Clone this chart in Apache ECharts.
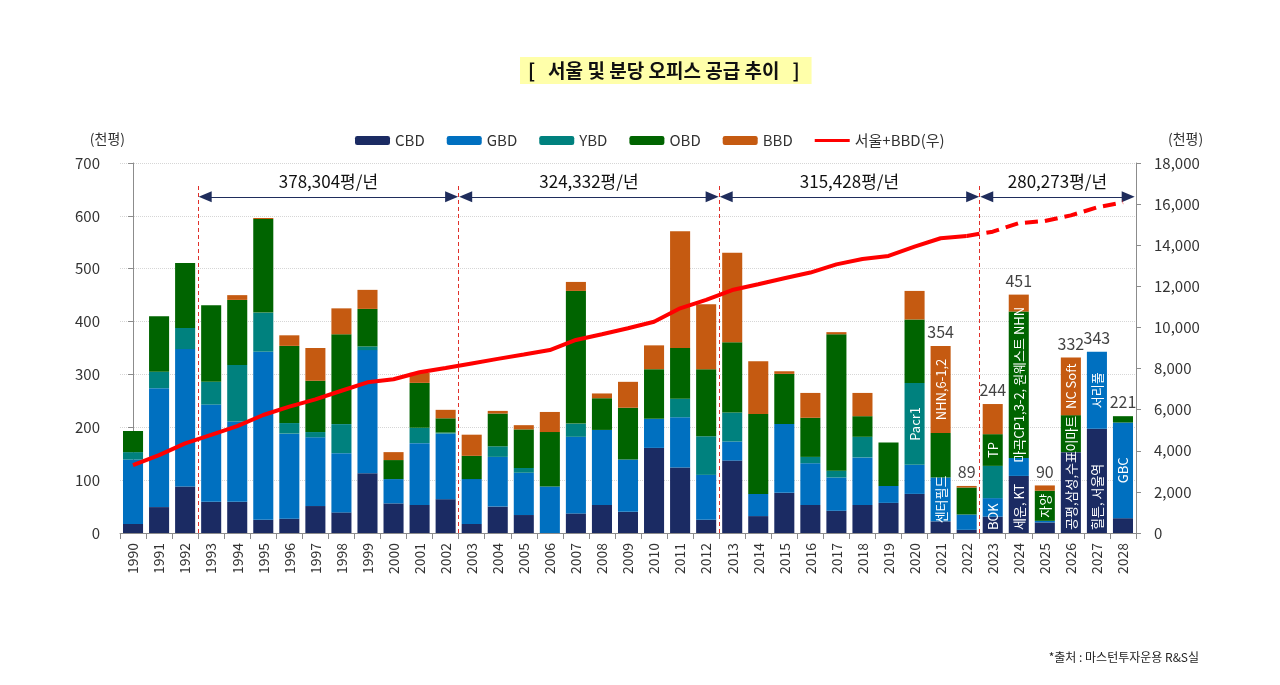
<!DOCTYPE html>
<html><head><meta charset="utf-8">
<script src="https://cdn.jsdelivr.net/npm/echarts/dist/echarts.min.js"></script>
<style>html,body{margin:0;padding:0;background:#fff}#c{width:1280px;height:685px}</style>
</head><body><div id="c"></div>
<script>
var years = ['1990','1991','1992','1993','1994','1995','1996','1997','1998','1999','2000','2001','2002','2003','2004','2005','2006','2007','2008','2009','2010','2011','2012','2013','2014','2015','2016','2017','2018','2019','2020','2021','2022','2023','2024','2025','2026','2027','2028'];
var cbd = [17,49,88,59,59,25,27,51,39,113,56,53,64,17,50,34,0,37,53,40,161,124,25,137,32,76,53,42,53,57,74,22,6,31,108,20,153,197,28];
var gbd = [122,225,260,184,152,318,161,130,112,233,46,117,124,85,94,80,88,145,142,99,55,95,85,36,42,130,79,63,90,32,55,83,29,35,34,3,0,146,181];
var ybd = [14,31,40,43,107,74,20,10,55,7,0,29,2,0,20,9,0,25,0,0,0,35,73,55,0,0,12,13,39,0,155,0,0,61,0,0,0,0,0];
var obd = [40,105,123,145,123,177,146,97,170,71,36,85,27,44,62,73,103,251,60,98,94,96,127,133,151,95,74,258,39,82,120,84,51,60,277,57,70,0,12];
var bbd = [0,0,0,0,9,2,20,62,49,36,15,19,16,40,5,8,38,17,9,49,45,221,123,169,100,5,47,4,44,0,54,165,3,57,32,10,109,0,0];
var cumulative = [3300,3790,4360,4770,5200,5740,6150,6500,6920,7330,7480,7820,8030,8250,8470,8680,8900,9390,9670,9960,10280,10930,11340,11820,12100,12390,12670,13070,13330,13480,13930,14340,14450,14660,15070,15180,15450,15840,16090];
var forecastFrom = '2022';
var totalYears = ['2021','2022','2023','2024','2025','2026','2027','2028'];
var cbdNotes = [['2023','BOK'],['2024','세운, KT'],['2026','공평,삼성,수표'],['2027','힐튼, 서울역']];
var gbdNotes = [['2021','센터필드'],['2027','서리풀'],['2028','GBC']];
var ybdNotes = [['2020','Pacr1']];
var obdNotes = [['2023','TP'],['2024','마곡CP1,3-2, 원웨스트 NHN'],['2025','자양'],['2026','이마트']];
var bbdNotes = [['2021','NHN,6-1,2'],['2026','NC Soft']];
var periodStartYears = ['1993','2003','2013','2023'];
var periodLabels = ['378,304평/년','324,332평/년','315,428평/년','280,273평/년'];
var leftTicks = [0,700,100];
var rightTicks = [0,18000,2000];

var FONT = '"Noto Sans CJK KR", "Noto Sans", sans-serif';
var COLORS = {CBD:'#1B2B63', GBD:'#0070C0', YBD:'#00817E', OBD:'#006400', BBD:'#C55A11', LINE:'#FF0000'};

function withNotes(vals, notes){
  var m = {};
  notes.forEach(function(n){ m[n[0]] = n[1]; });
  return vals.map(function(v,i){ return m[years[i]] ? {value:v, label:{show:true, formatter:m[years[i]]}} : v; });
}
function barSeries(name, vals, notes, baseAnchored){
  var lab = {show:false, position:'inside', rotate:90, color:'#fff', fontSize:13, fontFamily:FONT};
  if (baseAnchored) { lab.position = 'insideBottom'; lab.distance = 3; lab.align = 'left'; lab.verticalAlign = 'middle'; }
  return {
    name:name, type:'bar', stack:'s', barWidth:'77%', data: withNotes(vals, notes),
    itemStyle:{color:COLORS[name]},
    label:lab,
    emphasis:{disabled:true}
  };
}
function idx(y){ return years.indexOf(y); }
var fIdx = idx(forecastFrom);
var solid = cumulative.map(function(v,i){ return i<=fIdx ? v : null; });
var dashed = cumulative.map(function(v,i){ return i>=fIdx ? v : null; });
var totals = totalYears.map(function(y){ var i = idx(y); return [y, cbd[i]+gbd[i]+ybd[i]+obd[i]+bbd[i]]; });

var bounds = periodStartYears.map(function(y){ return idx(y) - 0.5; });
var dividerTop = 662;
var arrowY = 636;
var dividerData = bounds.map(function(b){ return [{coord:[b,0]},{coord:[b,dividerTop]}]; });
var arrowData = bounds.map(function(b,k){
  var end = k < bounds.length-1 ? bounds[k+1]-0.27 : years.length-0.5-0.3;
  return [{coord:[b+0.27, arrowY], label:{show:true, formatter:periodLabels[k]}},{coord:[end, arrowY]}];
});

var axisGray = '#8C8C8C';
var option = {
  animation:false,
  textStyle:{fontFamily:FONT},
  title:[
    {text:'[   서울 및 분당 오피스 공급 추이   ]', left:520, top:57, backgroundColor:'#FFFFAA',
     padding:[4,12,4,8], textStyle:{fontSize:19, fontWeight:'bold', color:'#111', fontFamily:FONT}},
    {text:'*출처 : 마스턴투자운용 R&S실', right:76, top:646,
     textStyle:{fontSize:12, fontWeight:'normal', color:'#222', fontFamily:FONT}}
  ],
  legend:{
    data:['CBD','GBD','YBD','OBD','BBD',
      {name:'서울+BBD(우)', icon:'path://M0,0 M35,9 M0,3 L35,3 L35,6 L0,6 Z'}],
    left:350, top:128, itemWidth:35, itemHeight:9, itemGap:22,
    textStyle:{fontSize:15, color:'#333', fontFamily:FONT},
    selectedMode:false
  },
  grid:{left:120, right:144, top:163, bottom:152, containLabel:false, outerBoundsMode:'none'},
  xAxis:[
    {type:'category', data:years, boundaryGap:true,
     axisLine:{lineStyle:{color:axisGray}}, axisTick:{show:true, length:6, lineStyle:{color:axisGray}},
     axisLabel:{rotate:90, fontSize:14, color:'#333', margin:10, fontFamily:FONT, interval:0}},
    {type:'value', min:-0.5, max:years.length-0.5, show:false}
  ],
  yAxis:[
    {type:'value', min:leftTicks[0], max:leftTicks[1], interval:leftTicks[2],
     name:'(천평)', nameLocation:'end', nameGap:17,
     nameTextStyle:{align:'right', padding:[0,8,0,0], fontSize:14, color:'#333', fontFamily:FONT},
     axisLine:{show:true, lineStyle:{color:axisGray}}, axisTick:{show:true, length:5, lineStyle:{color:axisGray}},
     axisLabel:{fontSize:15, color:'#333', margin:20, fontFamily:FONT},
     splitLine:{show:true, lineStyle:{color:'#D6D6D6', type:'dotted'}}},
    {type:'value', min:rightTicks[0], max:rightTicks[1], interval:rightTicks[2],
     name:'(천평)', nameLocation:'end', nameGap:17,
     nameTextStyle:{align:'left', padding:[0,0,0,32], fontSize:14, color:'#333', fontFamily:FONT},
     axisLine:{show:true, lineStyle:{color:axisGray}}, axisTick:{show:true, length:5, lineStyle:{color:axisGray}},
     axisLabel:{fontSize:15, color:'#333', margin:18, fontFamily:FONT,
       formatter:function(v){ return v.toLocaleString('en-US'); }},
     splitLine:{show:false}}
  ],
  series:[
    barSeries('CBD', cbd, cbdNotes, true),
    barSeries('GBD', gbd, gbdNotes),
    barSeries('YBD', ybd, ybdNotes),
    barSeries('OBD', obd, obdNotes),
    barSeries('BBD', bbd, bbdNotes),
    {name:'서울+BBD(우)', type:'line', yAxisIndex:1, data:solid, symbol:'none', z:5,
     lineStyle:{color:COLORS.LINE, width:4}, itemStyle:{color:COLORS.LINE}},
    {name:'forecast', type:'line', yAxisIndex:1, data:dashed, symbol:'none', z:5,
     lineStyle:{color:COLORS.LINE, width:4, type:[13,7]}, itemStyle:{color:COLORS.LINE}},
    {name:'totals', type:'scatter', data:totals, symbolSize:0, z:6,
     label:{show:true, position:'top', distance:6, color:'#111', fontSize:16, fontFamily:FONT,
       formatter:function(p){ return p.value[1]; }}},
    {name:'dividers', type:'line', xAxisIndex:1, yAxisIndex:0, data:[], silent:true,
     markLine:{silent:true, symbol:['none','none'], animation:false,
       lineStyle:{color:'#E0302A', type:[4,3], width:1}, label:{show:false}, data:dividerData}},
    {name:'arrows', type:'line', xAxisIndex:1, yAxisIndex:0, data:[], silent:true,
     markLine:{silent:true, symbol:['triangle','triangle'], symbolSize:[11,13], animation:false,
       lineStyle:{color:'#1F2D5C', type:'solid', width:1.2},
       label:{show:true, position:'insideMiddleTop', distance:7, color:'#111', fontSize:17, fontFamily:FONT},
       data:arrowData}}
  ]
};
var chart = echarts.init(document.getElementById('c'));
window.chart = chart;
chart.setOption(option);
</script></body></html>
